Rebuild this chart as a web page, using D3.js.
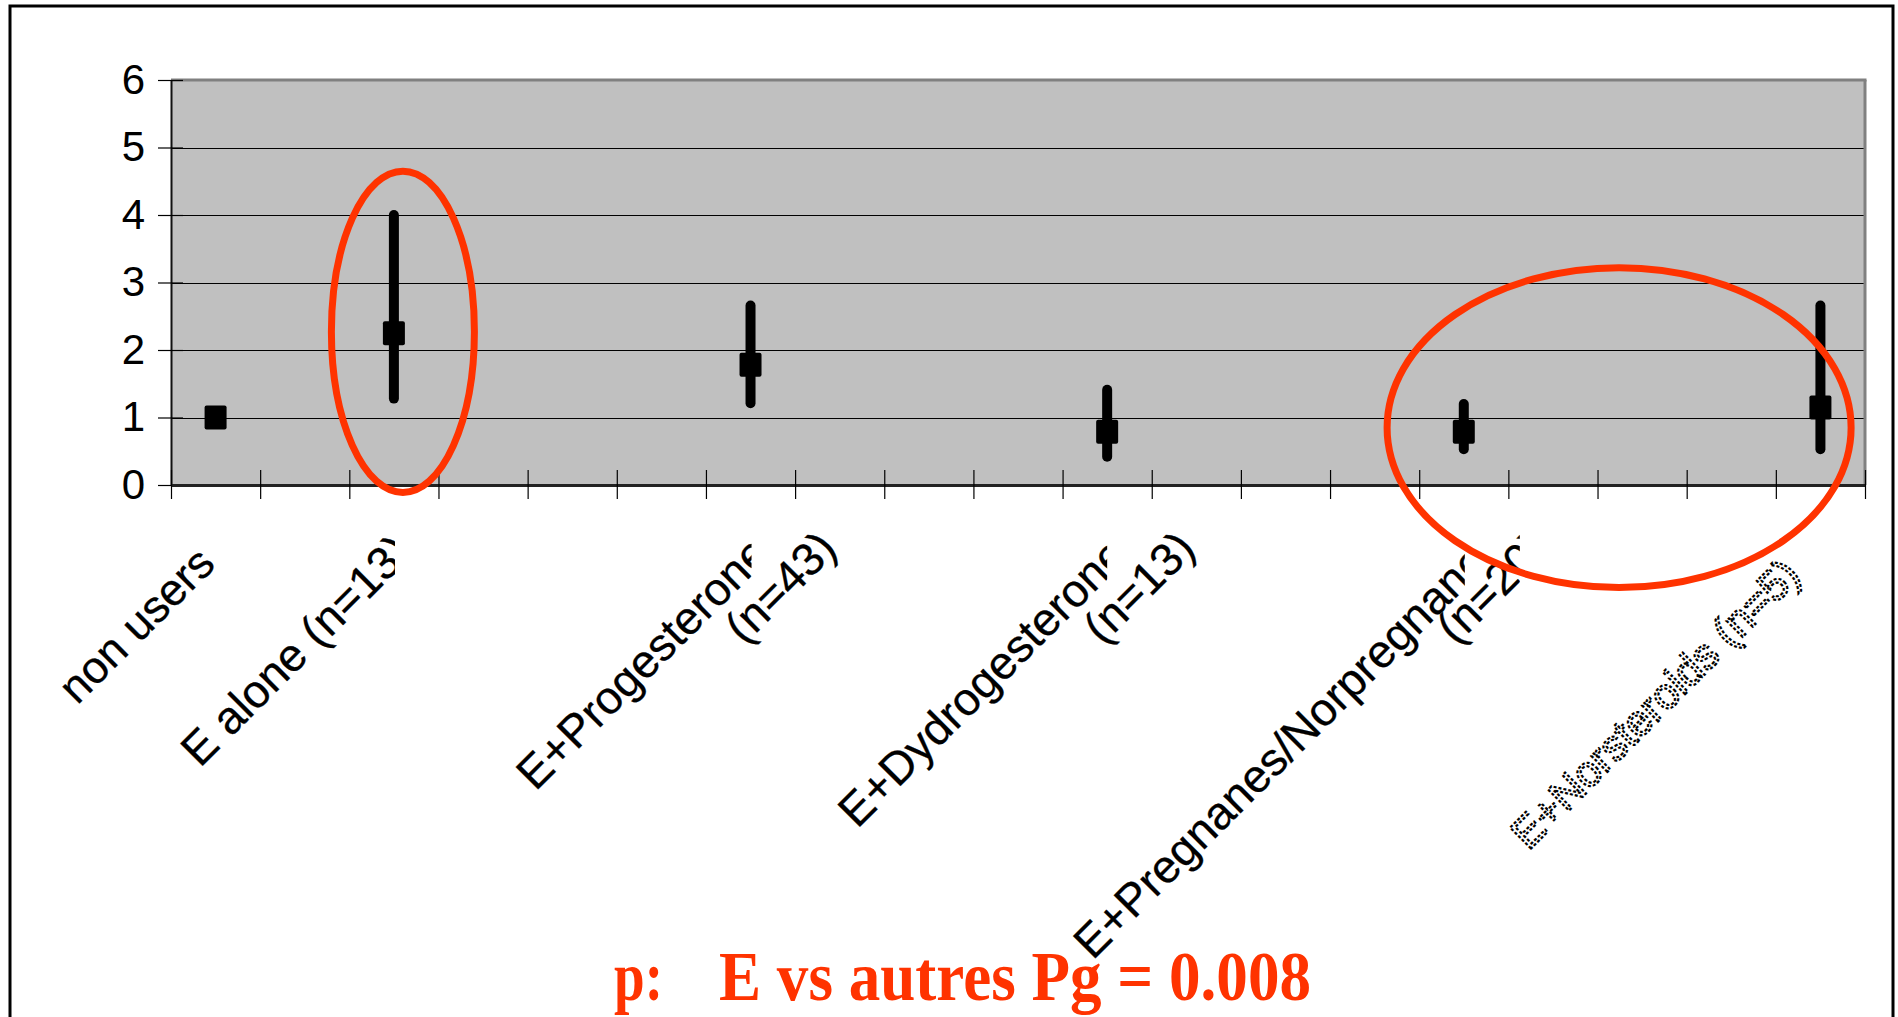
<!DOCTYPE html>
<html><head><meta charset="utf-8">
<script src="https://cdn.jsdelivr.net/npm/d3@7"></script>
<style>html,body{margin:0;padding:0;background:#fff;overflow:hidden}</style>
</head><body>
<svg id="chart" width="1898" height="1017"></svg>
<script>
// ---- data ----
const categories = ["non users","","E alone (n=13)","","","","E+Progesterone (n=43)","","","",
  "E+Dydrogesterone (n=13)","","","","E+Pregnanes/Norpregnanes (n=20)","","","","E+Norsteroids (n=5)"];
const estimate = [1.0,null,2.25,null,null,null,1.78,null,null,null,0.79,null,null,null,0.79,null,null,null,1.15];
const lowerCI  = [null,null,1.28,null,null,null,1.21,null,null,null,0.42,null,null,null,0.53,null,null,null,0.53];
const upperCI  = [null,null,4.0,null,null,null,2.66,null,null,null,1.41,null,null,null,1.20,null,null,null,2.66];
const yTicks = [0,1,2,3,4,5,6];
const annotation = ["p:", "E vs autres Pg = 0.008"];
const highlightA = ["E alone (n=13)"];
const highlightB = ["E+Pregnanes/Norpregnanes (n=20)", "E+Norsteroids (n=5)"];

// ---- layout ----
const RED = "#FF3300";
const svg = d3.select("#chart");
const plot = {left:171, right:1865, top:80, bottom:485};
const idx = d3.range(categories.length);
const x = d3.scaleBand().domain(idx).range([plot.left, plot.right]).padding(0);
const cx = i => x(i) + x.bandwidth()/2;
const xb = d3.scaleLinear().domain([0, categories.length]).range([plot.left, plot.right]);
const y = d3.scaleLinear().domain([0, 6]).range([plot.bottom, plot.top]);

// outer frame
svg.append("rect").attr("x",10).attr("y",6).attr("width",1883).attr("height",1100)
  .attr("fill","none").attr("stroke","#000").attr("stroke-width",3);

// plot background
svg.append("rect").attr("x",plot.left).attr("y",plot.top)
  .attr("width",plot.right-plot.left).attr("height",plot.bottom-plot.top).attr("fill","#C0C0C0");

// gridlines
svg.append("g").selectAll("line").data(yTicks.filter(v=>v>0 && v<6)).join("line")
  .attr("x1",plot.left).attr("x2",plot.right)
  .attr("y1",d=>Math.round(y(d))+0.5).attr("y2",d=>Math.round(y(d))+0.5)
  .attr("stroke","#000").attr("stroke-width",1.2);

// top & right border of plot
svg.append("line").attr("x1",plot.left).attr("x2",plot.right+1.5).attr("y1",plot.top).attr("y2",plot.top)
  .attr("stroke","#808080").attr("stroke-width",3);
svg.append("line").attr("x1",plot.right).attr("x2",plot.right).attr("y1",plot.top).attr("y2",plot.bottom)
  .attr("stroke","#808080").attr("stroke-width",3);

// y axis
const yAxis = svg.append("g").attr("transform",`translate(${plot.left},0)`)
  .call(d3.axisLeft(y).tickValues(yTicks).tickFormat(d3.format("d")).tickSizeOuter(0).tickSizeInner(13).tickPadding(13));
yAxis.select(".domain").attr("stroke","#111").attr("stroke-width",2);
yAxis.selectAll(".tick line").attr("stroke","#000").attr("stroke-width",1.2).attr("x1",-13).attr("x2",12);
yAxis.selectAll(".tick text").attr("font-family","'Liberation Sans', Arial, sans-serif")
  .attr("font-size",42).attr("fill","#000");

// x axis (category boundaries, cross ticks)
const xAxis = svg.append("g").attr("transform",`translate(0,${plot.bottom})`)
  .call(d3.axisBottom(xb).tickValues(d3.range(categories.length+1)).tickFormat("").tickSizeOuter(0).tickSizeInner(14));
xAxis.select(".domain").attr("stroke","#222").attr("stroke-width",3);
xAxis.selectAll(".tick line").attr("stroke","#000").attr("stroke-width",1.2).attr("y1",-15);

// error bars
const pts = idx.filter(i => estimate[i] !== null);
svg.append("g").selectAll("line").data(pts.filter(i=>lowerCI[i]!==null)).join("line")
  .attr("x1",i=>cx(i)).attr("x2",i=>cx(i))
  .attr("y1",i=>y(lowerCI[i])).attr("y2",i=>y(upperCI[i]))
  .attr("stroke","#000").attr("stroke-width",10).attr("stroke-linecap","round");

// markers
svg.append("g").selectAll("rect").data(pts).join("rect")
  .attr("x",i=>cx(i)-11).attr("y",i=>y(estimate[i])-12)
  .attr("width",22).attr("height",24).attr("rx",2).attr("fill","#000");

// category labels
const labelLayout = {
  "non users": [{anchor:"end", along:1.5, k:82.5, fs:45}],
  "E alone (n=13)": [{anchor:"start", along:-194, k:89.5, clip:1, fs:46}],
  "E+Progesterone (n=43)": [{anchor:"start", along:-215, k:92, clip:1, fs:46},{anchor:"start", along:-6.5, k:154, fs:46}],
  "E+Dydrogesterone (n=13)": [{anchor:"start", along:-250, k:94.5, clip:0, fs:46},{anchor:"start", along:-4.7, k:156, fs:46}],
  "E+Pregnanes/Norpregnanes (n=20)": [{anchor:"start", along:-371, k:105, clip:1, fs:46},{anchor:"start", along:-8, k:153, clip:56, fs:46}],
  "E+Norsteroids (n=5)": [{anchor:"start", along:-292, k:74, fs:43, dotted:true}]
};
const defs = svg.append("defs");
const labG = svg.append("g");
let clipId = 0;
idx.forEach(i => {
  const name = categories[i];
  if (!name) return;
  const lay = labelLayout[name];
  let lines = [name];
  if (lay.length === 2) { const p = name.lastIndexOf(" ("); lines = [name.slice(0,p), name.slice(p+1)]; }
  lines.forEach((t, li) => {
    const L = lay[li];
    const x0 = cx(i) + L.along, y0 = plot.bottom + L.k - L.along;
    let g = labG;
    if (L.clip !== undefined) {
      const id = "clip" + (clipId++);
      defs.append("clipPath").attr("id",id).append("rect")
        .attr("x",0).attr("y",0).attr("width",cx(i)+L.clip).attr("height",1017);
      g = labG.append("g").attr("clip-path",`url(#${id})`);
    }
    const txt = g.append("text").text(t)
      .attr("transform",`translate(${x0},${y0}) rotate(-45)`)
      .attr("text-anchor",L.anchor)
      .attr("font-family","'Liberation Sans', Arial, sans-serif")
      .attr("font-size",L.fs);
    if (L.dotted) txt.attr("fill","#fff").attr("stroke","#000").attr("stroke-width",2.2).attr("stroke-dasharray","3 2");
    else txt.attr("fill","#000").attr("stroke","#000").attr("stroke-width",0.3);
  });
});

// highlight ellipses
const ia = categories.indexOf(highlightA[0]);
svg.append("ellipse").attr("cx",cx(ia)+9).attr("cy",y(2.27)).attr("rx",71.5).attr("ry",y(0)-y(2.38))
  .attr("fill","none").attr("stroke",RED).attr("stroke-width",7);
const ib = highlightB.map(n=>categories.indexOf(n));
svg.append("ellipse").attr("cx",(cx(ib[0])+cx(ib[1]))/2-23).attr("cy",y(0.85)).attr("rx",232).attr("ry",y(0)-y(2.37))
  .attr("fill","none").attr("stroke",RED).attr("stroke-width",7);

// annotation
const tf = "'Liberation Serif', 'Times New Roman', serif";
svg.append("text").text(annotation[0]).attr("x",614).attr("y",999.5)
  .attr("font-family",tf).attr("font-weight","bold").attr("font-size",69).attr("fill",RED)
  .attr("textLength",49).attr("lengthAdjust","spacingAndGlyphs");
svg.append("text").text(annotation[1]).attr("x",719).attr("y",999.5)
  .attr("font-family",tf).attr("font-weight","bold").attr("font-size",69).attr("fill",RED)
  .attr("textLength",592).attr("lengthAdjust","spacingAndGlyphs");
</script>
</body></html>
